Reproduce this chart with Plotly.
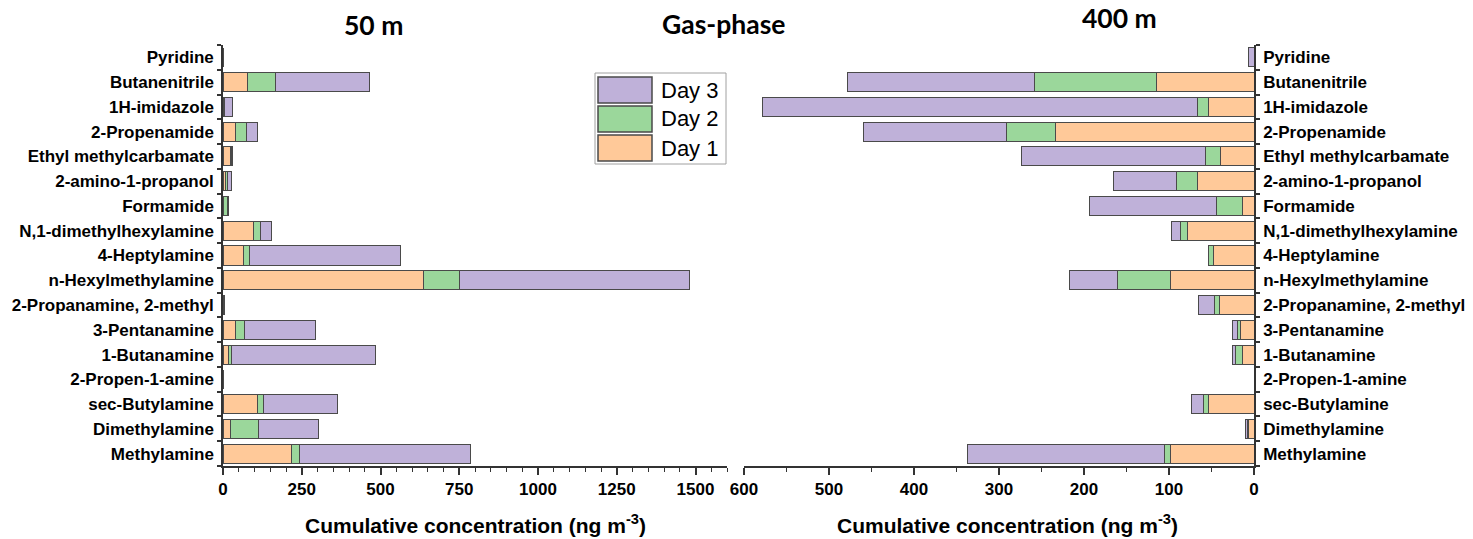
import plotly.graph_objects as go

W, H = 1473, 539

categories = ["Pyridine", "Butanenitrile", "1H-imidazole", "2-Propenamide",
              "Ethyl methylcarbamate", "2-amino-1-propanol", "Formamide",
              "N,1-dimethylhexylamine", "4-Heptylamine", "n-Hexylmethylamine",
              "2-Propanamine, 2-methyl", "3-Pentanamine", "1-Butanamine",
              "2-Propen-1-amine", "sec-Butylamine", "Dimethylamine", "Methylamine"]

# 50 m (ng m-3)
day1_50 = [0, 77, 2, 41, 24, 7, 2, 96, 65, 636, 2, 39, 16, 0, 110, 24, 216]
day2_50 = [0, 89, 2, 34, 2, 8, 13, 24, 19, 115, 1, 30, 10, 0, 17, 90, 26]
day3_50 = [0, 299, 27, 34, 3, 11, 1, 35, 478, 730, 2, 224, 459, 0, 237, 189, 545]

# 400 m (ng m-3)
day1_400 = [0, 115, 54, 234, 40, 67, 13, 78, 48, 98, 41, 16, 13, 0, 53, 7, 98]
day2_400 = [0, 143, 13, 57, 17, 24, 31, 9, 5, 63, 5, 4, 9, 0, 7, 1, 7]
day3_400 = [6, 220, 511, 169, 217, 74, 149, 10, 0, 56, 19, 5, 3, 0, 13, 2, 232]

series_names = ["Day 1", "Day 2", "Day 3"]
colors = {"Day 1": "#FFC999", "Day 2": "#9BD79B", "Day 3": "#BFB1D9"}
outline = "#4a4a4a"

panel_titles = ["50 m", "Gas-phase", "400 m"]
x_title = "Cumulative concentration (ng m<sup>-3</sup>)"

fig = go.Figure()

for name, vals in zip(series_names, [day1_50, day2_50, day3_50]):
    fig.add_trace(go.Bar(y=categories, x=vals, orientation="h", name=name,
                         marker=dict(color=colors[name], line=dict(color=outline, width=1)),
                         xaxis="x", yaxis="y", showlegend=False))
for name, vals in zip(series_names, [day1_400, day2_400, day3_400]):
    fig.add_trace(go.Bar(y=categories, x=vals, orientation="h", name=name,
                         marker=dict(color=colors[name], line=dict(color=outline, width=1)),
                         xaxis="x2", yaxis="y2", showlegend=False))

def px(x):
    return x / W

def py(y):
    return 1 - y / H

font_fam = "Liberation Sans, Arial, sans-serif"
cat_order = categories[::-1]

axis_common = dict(showgrid=False, zeroline=False, showline=True, linecolor="#333333",
                   linewidth=1.5, ticks="outside", tickcolor="#333333", tickwidth=1.5,
                   automargin=False)

fig.update_layout(
    width=W, height=H,
    margin=dict(l=0, r=0, t=0, b=0),
    paper_bgcolor="white", plot_bgcolor="white",
    barmode="stack", bargap=0.23,
    xaxis=dict(domain=[px(223), px(727)], range=[0, 1600], tick0=0, dtick=250,
               ticklen=7, tickfont=dict(family=font_fam, size=17, weight="bold", color="black"),
               minor=dict(dtick=50, ticks="outside", ticklen=4, tickcolor="#333333", tickwidth=1),
               anchor="y", **axis_common),
    yaxis=dict(domain=[py(466), py(45)], type="category", categoryorder="array",
               categoryarray=cat_order, range=[-0.5, 16.5], tickson="boundaries",
               ticklen=4, ticklabelstandoff=4,
               tickfont=dict(family=font_fam, size=17, weight="bold", color="black"),
               anchor="x", **axis_common),
    xaxis2=dict(domain=[px(744), px(1254)], range=[600, 0], tick0=0, dtick=100,
                ticklen=7, tickfont=dict(family=font_fam, size=17, weight="bold", color="black"),
                minor=dict(dtick=50, ticks="outside", ticklen=4, tickcolor="#333333", tickwidth=1),
                anchor="y2", **axis_common),
    yaxis2=dict(domain=[py(466), py(45)], type="category", categoryorder="array",
                categoryarray=cat_order, range=[-0.5, 16.5], tickson="boundaries",
                ticklen=4, ticklabelstandoff=4, side="right",
                tickfont=dict(family=font_fam, size=17, weight="bold", color="black"),
                anchor="x2", **axis_common),
)

title_font = dict(family="Lato, Open Sans, sans-serif", size=26.5, color="black", weight="bold")
annotations = [
    dict(text=panel_titles[0], x=px(373), y=py(25)),
    dict(text=panel_titles[1], x=px(723), y=py(24)),
    dict(text=panel_titles[2], x=px(1119), y=py(18)),
]
anns = []
for a in annotations:
    anns.append(dict(xref="paper", yref="paper", xanchor="center", yanchor="middle",
                     showarrow=False, font=title_font, **a))
for cx in [475, 1007]:
    anns.append(dict(xref="paper", yref="paper", x=px(cx), y=py(524), xanchor="center",
                     yanchor="middle", showarrow=False, text="<b>" + x_title + "</b>",
                     font=dict(family=font_fam, size=21, color="black")))

# custom legend (Day 3, Day 2, Day 1 from top)
shapes = [dict(type="rect", xref="paper", yref="paper", x0=px(595), x1=px(726),
               y0=py(164), y1=py(73), line=dict(color="#a0a0a0", width=1), fillcolor="white",
               layer="above")]
legend_rows = [("Day 3", 77, 103), ("Day 2", 106, 132), ("Day 1", 135, 161)]
for name, y0, y1 in legend_rows:
    shapes.append(dict(type="rect", xref="paper", yref="paper", x0=px(598), x1=px(652),
                       y0=py(y1), y1=py(y0), fillcolor=colors[name],
                       line=dict(color=outline, width=1.5), layer="above"))
    anns.append(dict(xref="paper", yref="paper", x=px(659), y=py((y0 + y1) / 2),
                     xanchor="left", yanchor="middle", showarrow=False, text=name,
                     font=dict(family=font_fam, size=22, color="black")))

fig.update_layout(annotations=anns, shapes=shapes)

fig.write_html("out.html", config={"displayModeBar": False},
               post_script="document.body.style.margin='0px';")
